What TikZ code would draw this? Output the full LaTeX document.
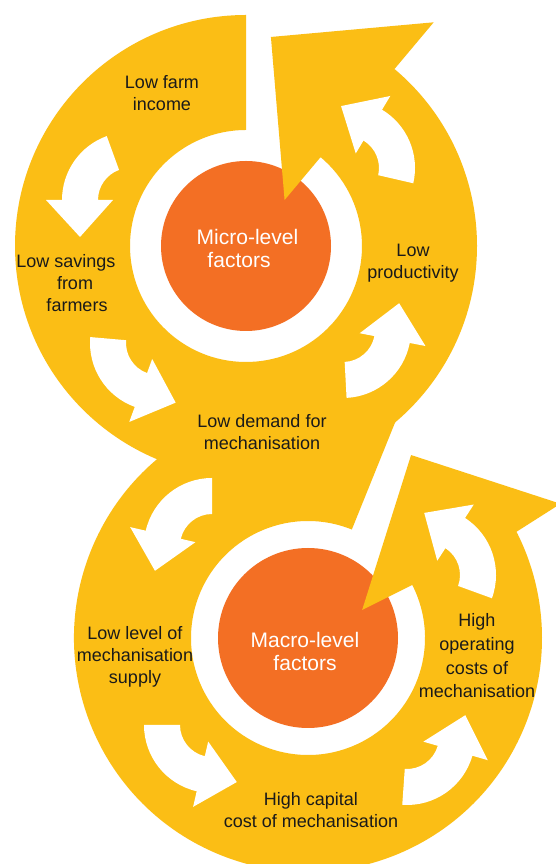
\documentclass[tikz,border=0pt]{standalone}
\usepackage{fontspec}
\setmainfont{Liberation Sans}
\usetikzlibrary{calc}
\definecolor{ringyellow}{HTML}{FBBE15}
\definecolor{coreorange}{HTML}{F36F24}
\definecolor{labeltext}{HTML}{1A1A1A}
% #1,#2 centre, #3 start angle, #4 end angle (counter-clockwise)
\newcommand{\whitearrow}[4]{%
  \fill[smallarrow] ($(#1,#2)+(#3:32)$) -- ($(#1,#2)+(#3:68)$)
    arc[start angle=#3, end angle=#4, radius=68]
    -- ($(#1,#2)+(#4:84)$)
    -- ($(#1,#2)+(#4:50)+({#4+90}:37)$)
    -- ($(#1,#2)+(#4:17)$)
    -- ($(#1,#2)+(#4:32)$)
    arc[start angle=#4, end angle=#3, radius=32] -- cycle;}
\begin{document}
\begin{tikzpicture}[x=1pt,y=1pt,
  lbl/.style={font=\fontsize{18}{22}\selectfont, text=labeltext, align=center, inner sep=0pt},
  corelabel/.style={font=\fontsize{21}{23.5}\selectfont, text=white, align=center, inner sep=0pt},
  bigarrow/.style={fill=ringyellow},
  smallarrow/.style={fill=white},
  core/.style={circle, fill=coreorange, inner sep=0pt}]
\useasboundingbox (0,0) rectangle (556,864);
\fill[white] (0,0) rectangle (556,864);
\clip (0,0) rectangle (556,864);
\coordinate (C1) at (246,618);
\coordinate (C2) at (308,226);
\node[core, minimum size=170pt] (microcore) at (C1) {};
\node[core, minimum size=180pt] (macrocore) at (C2) {};

% upper cycle
\fill[bigarrow] ($(C1)+(90:116)$) -- ($(C1)+(90:231)$)
  arc[start angle=90, end angle=410, radius=231]
  -- ($(C1)+(50:292)$) -- ($(C1)+(83.2:210.5)$) -- ($(C1)+(50:60)$)
  -- ($(C1)+(50:116)$)
  arc[start angle=410, end angle=90, radius=116] -- cycle;

% lower cycle
\fill[bigarrow] ($(C2)+(68:117)$) -- ($(C2)+(68:234)$)
  arc[start angle=68, end angle=387, radius=234]
  -- ($(C2)+(28:286)$) -- ($(C2)+(60.6:210)$) -- ($(C2)+(27.4:61)$)
  -- ($(C2)+(27:117)$)
  arc[start angle=387, end angle=68, radius=117] -- cycle;

% small white arrows
\whitearrow{130}{664}{110}{180}
\whitearrow{158}{521}{175}{250}
\whitearrow{343}{534}{-87}{-11}
\whitearrow{347}{696}{-13}{59}
\whitearrow{212}{318}{90}{167}
\whitearrow{212}{139}{180}{257}
\whitearrow{407}{127}{-94}{-16}
\whitearrow{428}{289}{-20}{57}

% labels
\node[corelabel] (microtext) at (247.5,615.7) {Micro-level\\factors\hspace*{17pt}};
\node[corelabel] (macrotext) at (305,212.5) {Macro-level\\factors};
\node[lbl] (farmincome) at (162,770.5) {Low farm\\income};
\node[lbl] (savings) at (66,581) {Low savings\\\hspace*{18pt}from\\\hspace*{22pt}farmers};
\node[lbl] (productivity) at (413,601) {Low\\productivity};
\node[lbl] (demand) at (262,431.5) {Low demand for\\mechanisation};
\node[lbl] (supplylevel) at (135,207) {Low level of\\mechanisation\\supply};
\node[lbl, font=\fontsize{18}{23.7}\selectfont] (operating) at (477,208) {High\\operating\\costs of\\mechanisation};
\node[lbl] (capital) at (311,54) {High capital\\cost of mechanisation};
\end{tikzpicture}
\end{document}
